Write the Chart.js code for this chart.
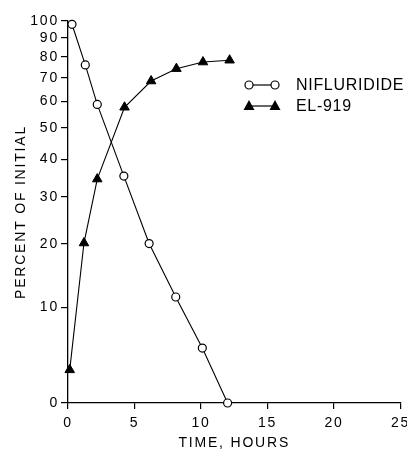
<!DOCTYPE html>
<html><head><meta charset="utf-8">
<script src="https://cdn.jsdelivr.net/npm/chart.js@4/dist/chart.umd.min.js"></script>
<style>html,body{margin:0;padding:0;background:#fff}canvas{display:block}</style>
</head><body>
<canvas id="c" width="407" height="452"></canvas>
<script>
// ---- data ----
const nifTime = [0.3, 1.3, 2.2, 4.2, 6.1, 8.1, 10.1, 12.0];
const nifPct  = [98, 76, 58.7, 35.3, 20.1, 11.4, 5.1, 0];
const elTime  = [0.13, 1.2, 2.2, 4.25, 6.25, 8.15, 10.15, 12.15];
const elPct   = [2.9, 20.2, 34.5, 57.6, 68.5, 74.2, 77.4, 78.3];
const xTicks  = [0, 5, 10, 15, 20, 25];
const yTicks  = [0, 10, 20, 30, 40, 50, 60, 70, 80, 90, 100];
const seriesNames = ['NIFLURIDIDE', 'EL-919'];
const xTitle = 'TIME, HOURS';
const yTitle = 'PERCENT OF INITIAL';

// y axis of the original is a log(percent + 15) scale
const Y_OFF = 15;
const T = v => Math.log10(v + Y_OFF);

const FONT = '"Liberation Sans", Arial, Helvetica, sans-serif';

const spacingPlugin = {
  id: 'spacing',
  beforeLayout(chart) { chart.ctx.letterSpacing = '1.8px'; },
  beforeDraw(chart) { chart.ctx.letterSpacing = '1.8px'; }
};

const legendPlugin = {
  id: 'customLegend',
  afterDraw(chart) {
    const ctx = chart.ctx;
    const ca = chart.chartArea;
    const x0 = ca.left + 181, x1 = ca.left + 207, tx = ca.left + 228;
    const rows = [ca.top + 64, ca.top + 85];
    ctx.save();
    ctx.letterSpacing = '0.7px';
    ctx.font = '16px ' + FONT;
    ctx.textBaseline = 'middle';
    ctx.textAlign = 'left';
    ctx.fillStyle = '#000';
    ctx.strokeStyle = '#000';
    ctx.lineWidth = 1.2;
    rows.forEach((y, i) => {
      ctx.beginPath(); ctx.moveTo(x0, y); ctx.lineTo(x1, y); ctx.stroke();
      [x0, x1].forEach(x => {
        ctx.beginPath();
        if (i === 0) {
          ctx.arc(x, y, 4, 0, Math.PI * 2);
          ctx.fillStyle = '#fff'; ctx.fill(); ctx.stroke();
        } else {
          ctx.moveTo(x, y - 6); ctx.lineTo(x + 5.5, y + 4); ctx.lineTo(x - 5.5, y + 4); ctx.closePath();
          ctx.fillStyle = '#000'; ctx.fill();
        }
      });
      ctx.fillStyle = '#000';
      ctx.fillText(seriesNames[i], tx, y + 1);
    });
    ctx.restore();
  }
};

new Chart(document.getElementById('c'), {
  type: 'line',
  data: {
    datasets: [
      {
        label: seriesNames[0],
        data: nifTime.map((t, i) => ({ x: t, y: T(nifPct[i]) })),
        borderColor: '#000', borderWidth: 1.1,
        pointStyle: 'circle', pointRadius: 4, pointBorderWidth: 1.2,
        pointBackgroundColor: '#fff', pointBorderColor: '#000',
        tension: 0, clip: false
      },
      {
        label: seriesNames[1],
        data: elTime.map((t, i) => ({ x: t, y: T(elPct[i]) })),
        borderColor: '#000', borderWidth: 1.1,
        pointStyle: 'triangle', pointRadius: 5.5, pointBorderWidth: 1,
        pointBackgroundColor: '#000', pointBorderColor: '#000',
        tension: 0, clip: false
      }
    ]
  },
  options: {
    responsive: false,
    animation: false,
    devicePixelRatio: 1,
    layout: { padding: { left: 0, right: 6, top: 21, bottom: 0 } },
    plugins: { legend: { display: false }, tooltip: { enabled: false } },
    scales: {
      x: {
        type: 'linear', min: 0, max: 25,
        afterBuildTicks: s => { s.ticks = xTicks.map(v => ({ value: v })); },
        afterFit: s => { s.height = 49; s.paddingLeft = 0; s.paddingRight = 0; },
        grid: { drawOnChartArea: false, drawTicks: true, tickLength: 6, color: '#000', lineWidth: 1.2 },
        border: { display: true, color: '#000', width: 1.3 },
        ticks: { autoSkip: false, maxRotation: 0, padding: 6, color: '#000', font: { family: FONT, size: 14 },
                 callback: v => String(v) },
        title: { display: true, text: xTitle, color: '#000', font: { family: FONT, size: 14 }, padding: { top: 0, bottom: 0 } }
      },
      y: {
        type: 'linear', min: T(0), max: T(100),
        afterBuildTicks: s => { s.ticks = yTicks.map(v => ({ value: T(v) })); },
        afterFit: s => { s.width = 68; s.paddingTop = 0; s.paddingBottom = 0; },
        grid: { drawOnChartArea: false, drawTicks: true, tickLength: 7, color: '#000', lineWidth: 1.2 },
        border: { display: true, color: '#000', width: 1.3 },
        ticks: { autoSkip: false, padding: 2, color: '#000', font: { family: FONT, size: 14 },
                 callback: (v, i) => String(yTicks[i]) },
        title: { display: true, text: yTitle, color: '#000', font: { family: FONT, size: 14 }, padding: { top: 13, bottom: 0 } }
      }
    }
  },
  plugins: [spacingPlugin, legendPlugin]
});
</script>
</body></html>
